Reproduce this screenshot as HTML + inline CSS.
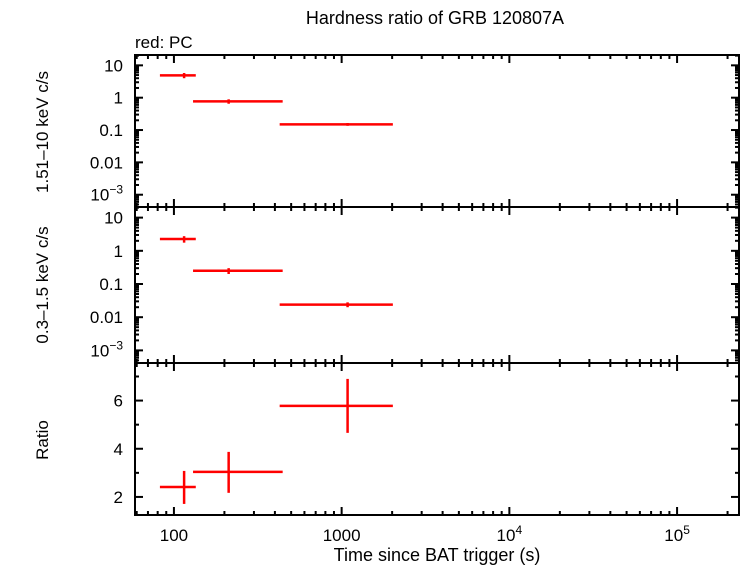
<!DOCTYPE html>
<html><head><meta charset="utf-8"><style>
body{margin:0;background:#fff}
svg{display:block;font-family:"Liberation Sans",sans-serif}
</style></head><body>
<svg id="c" width="742" height="566" viewBox="0 0 742 566">
<text x="435" y="24" font-size="18" text-anchor="middle">Hardness ratio of GRB 120807A</text>
<text x="135" y="48" font-size="17">red: PC</text>
<text x="437" y="561" font-size="18" text-anchor="middle">Time since BAT trigger (s)</text>
<g id="g"></g>
</svg>
<script>
const binStart=[82.5,130,427];
const binEnd=[135,445,2020];
const binCenter=[115,212,1085];
const hardRate=[4.9,0.77,0.15];
const hardErr=[0.9,0.12,0.015];
const softRate=[2.26,0.25,0.024];
const softErr=[0.5,0.05,0.004];
const ratio=[2.41,3.04,5.78];
const ratioHi=[3.08,3.87,6.9];
const ratioLo=[1.71,2.17,4.66];
const xTickVals=[100,1000,10000,100000];
const xTickLabels=["100","1000","10^4","10^5"];
const logTickVals=[10,1,0.1,0.01,0.001];
const logTickLabels=["10","1","0.1","0.01","10^-3"];
const ratioTickVals=[2,4,6];

const NS="http://www.w3.org/2000/svg",g=document.getElementById('g');
const X0=135,X1=739,xmin=Math.log10(58.6),xmax=Math.log10(234000);
function xs(t){return X0+(Math.log10(t)-xmin)/(xmax-xmin)*(X1-X0);}
const panels=[{top:55,bot:207},{top:207,bot:363},{top:363,bot:515}];
const lmin=-3.38,lmax=1.32;
function ylog(p,v){const P=panels[p];return P.bot-(Math.log10(v)-lmin)/(lmax-lmin)*(P.bot-P.top);}
const rmin=1.25,rmax=7.56;
function ylin(v){const P=panels[2];return P.bot-(v-rmin)/(rmax-rmin)*(P.bot-P.top);}
function el(tag,a,parent){const e=document.createElementNS(NS,tag);for(const k in a)e.setAttribute(k,a[k]);(parent||g).appendChild(e);return e;}
function line(x1,y1,x2,y2,c,w,name){const e=el('line',{x1,y1,x2,y2,stroke:c,'stroke-width':w});


return e;}
function label(x,y,s,anchor,name){const t=el('text',{x,y,'font-size':17,'text-anchor':anchor});


const m=s.split('^');t.textContent=m[0];
if(m[1]){const sp=el('tspan',{dy:-7,'font-size':12},t);sp.textContent=m[1].replace('-','\u2212');}
return t;}
panels.forEach((P,i)=>{
 const r=el('rect',{x:X0,y:P.top,width:X1-X0,height:P.bot-P.top,fill:'none',stroke:'#000','stroke-width':2});
 
 
 for(let d=1;d<=5;d++)for(let k=1;k<10;k++){const t=k*Math.pow(10,d);const x=xs(t);if(x<X0||x>X1)continue;
  const L=k==1?8:4;
  line(x,P.bot,x,P.bot-L,'#000',2,'x-tick');line(x,P.top,x,P.top+L,'#000',2,'x-tick');}
 if(i<2){for(let d=-4;d<=1;d++)for(let k=1;k<10;k++){const v=k*Math.pow(10,d);const y=ylog(i,v);if(y<P.top||y>P.bot)continue;
  const L=k==1?8:4;line(X0,y,X0+L,y,'#000',2,'y-tick');line(X1,y,X1-L,y,'#000',2,'y-tick');}
  logTickVals.forEach((v,j)=>label(X0-12,ylog(i,v)+6,logTickLabels[j],'end','y-tick-label'));}
 else{for(let v=2;v<=7;v++){const y=ylin(v);const L=v%2==0?8:4;line(X0,y,X0+L,y,'#000',2,'y-tick');line(X1,y,X1-L,y,'#000',2,'y-tick');}
  ratioTickVals.forEach(v=>label(X0-12,ylin(v)+6,String(v),'end','y-tick-label'));}
});
xTickVals.forEach((v,j)=>label(xs(v),541,xTickLabels[j],'middle','x-tick-label'));
function yl(x,y,s,name){const t=el('text',{x:0,y:0,'font-size':17,'text-anchor':'middle',transform:`translate(${x},${y}) rotate(-90)`});


t.textContent=s;}
yl(48,132,'1.51\u201310 keV c/s','hard-y-axis-title');
yl(48,285,'0.3\u20131.5 keV c/s','soft-y-axis-title');
yl(48,440,'Ratio','ratio-y-axis-title');
const R='#f00';
binCenter.forEach((c,i)=>{
 let y=ylog(0,hardRate[i]);line(xs(binStart[i]),y,xs(binEnd[i]),y,R,2.5,'hard-bin');
 line(xs(c),ylog(0,hardRate[i]+hardErr[i]),xs(c),ylog(0,hardRate[i]-hardErr[i]),R,2.5,'hard-error');
 y=ylog(1,softRate[i]);line(xs(binStart[i]),y,xs(binEnd[i]),y,R,2.5,'soft-bin');
 line(xs(c),ylog(1,softRate[i]+softErr[i]),xs(c),ylog(1,softRate[i]-softErr[i]),R,2.5,'soft-error');
 y=ylin(ratio[i]);line(xs(binStart[i]),y,xs(binEnd[i]),y,R,2.5,'ratio-bin');
 line(xs(c),ylin(ratioHi[i]),xs(c),ylin(ratioLo[i]),R,2.5,'ratio-error');
});
</script>
</body></html>
